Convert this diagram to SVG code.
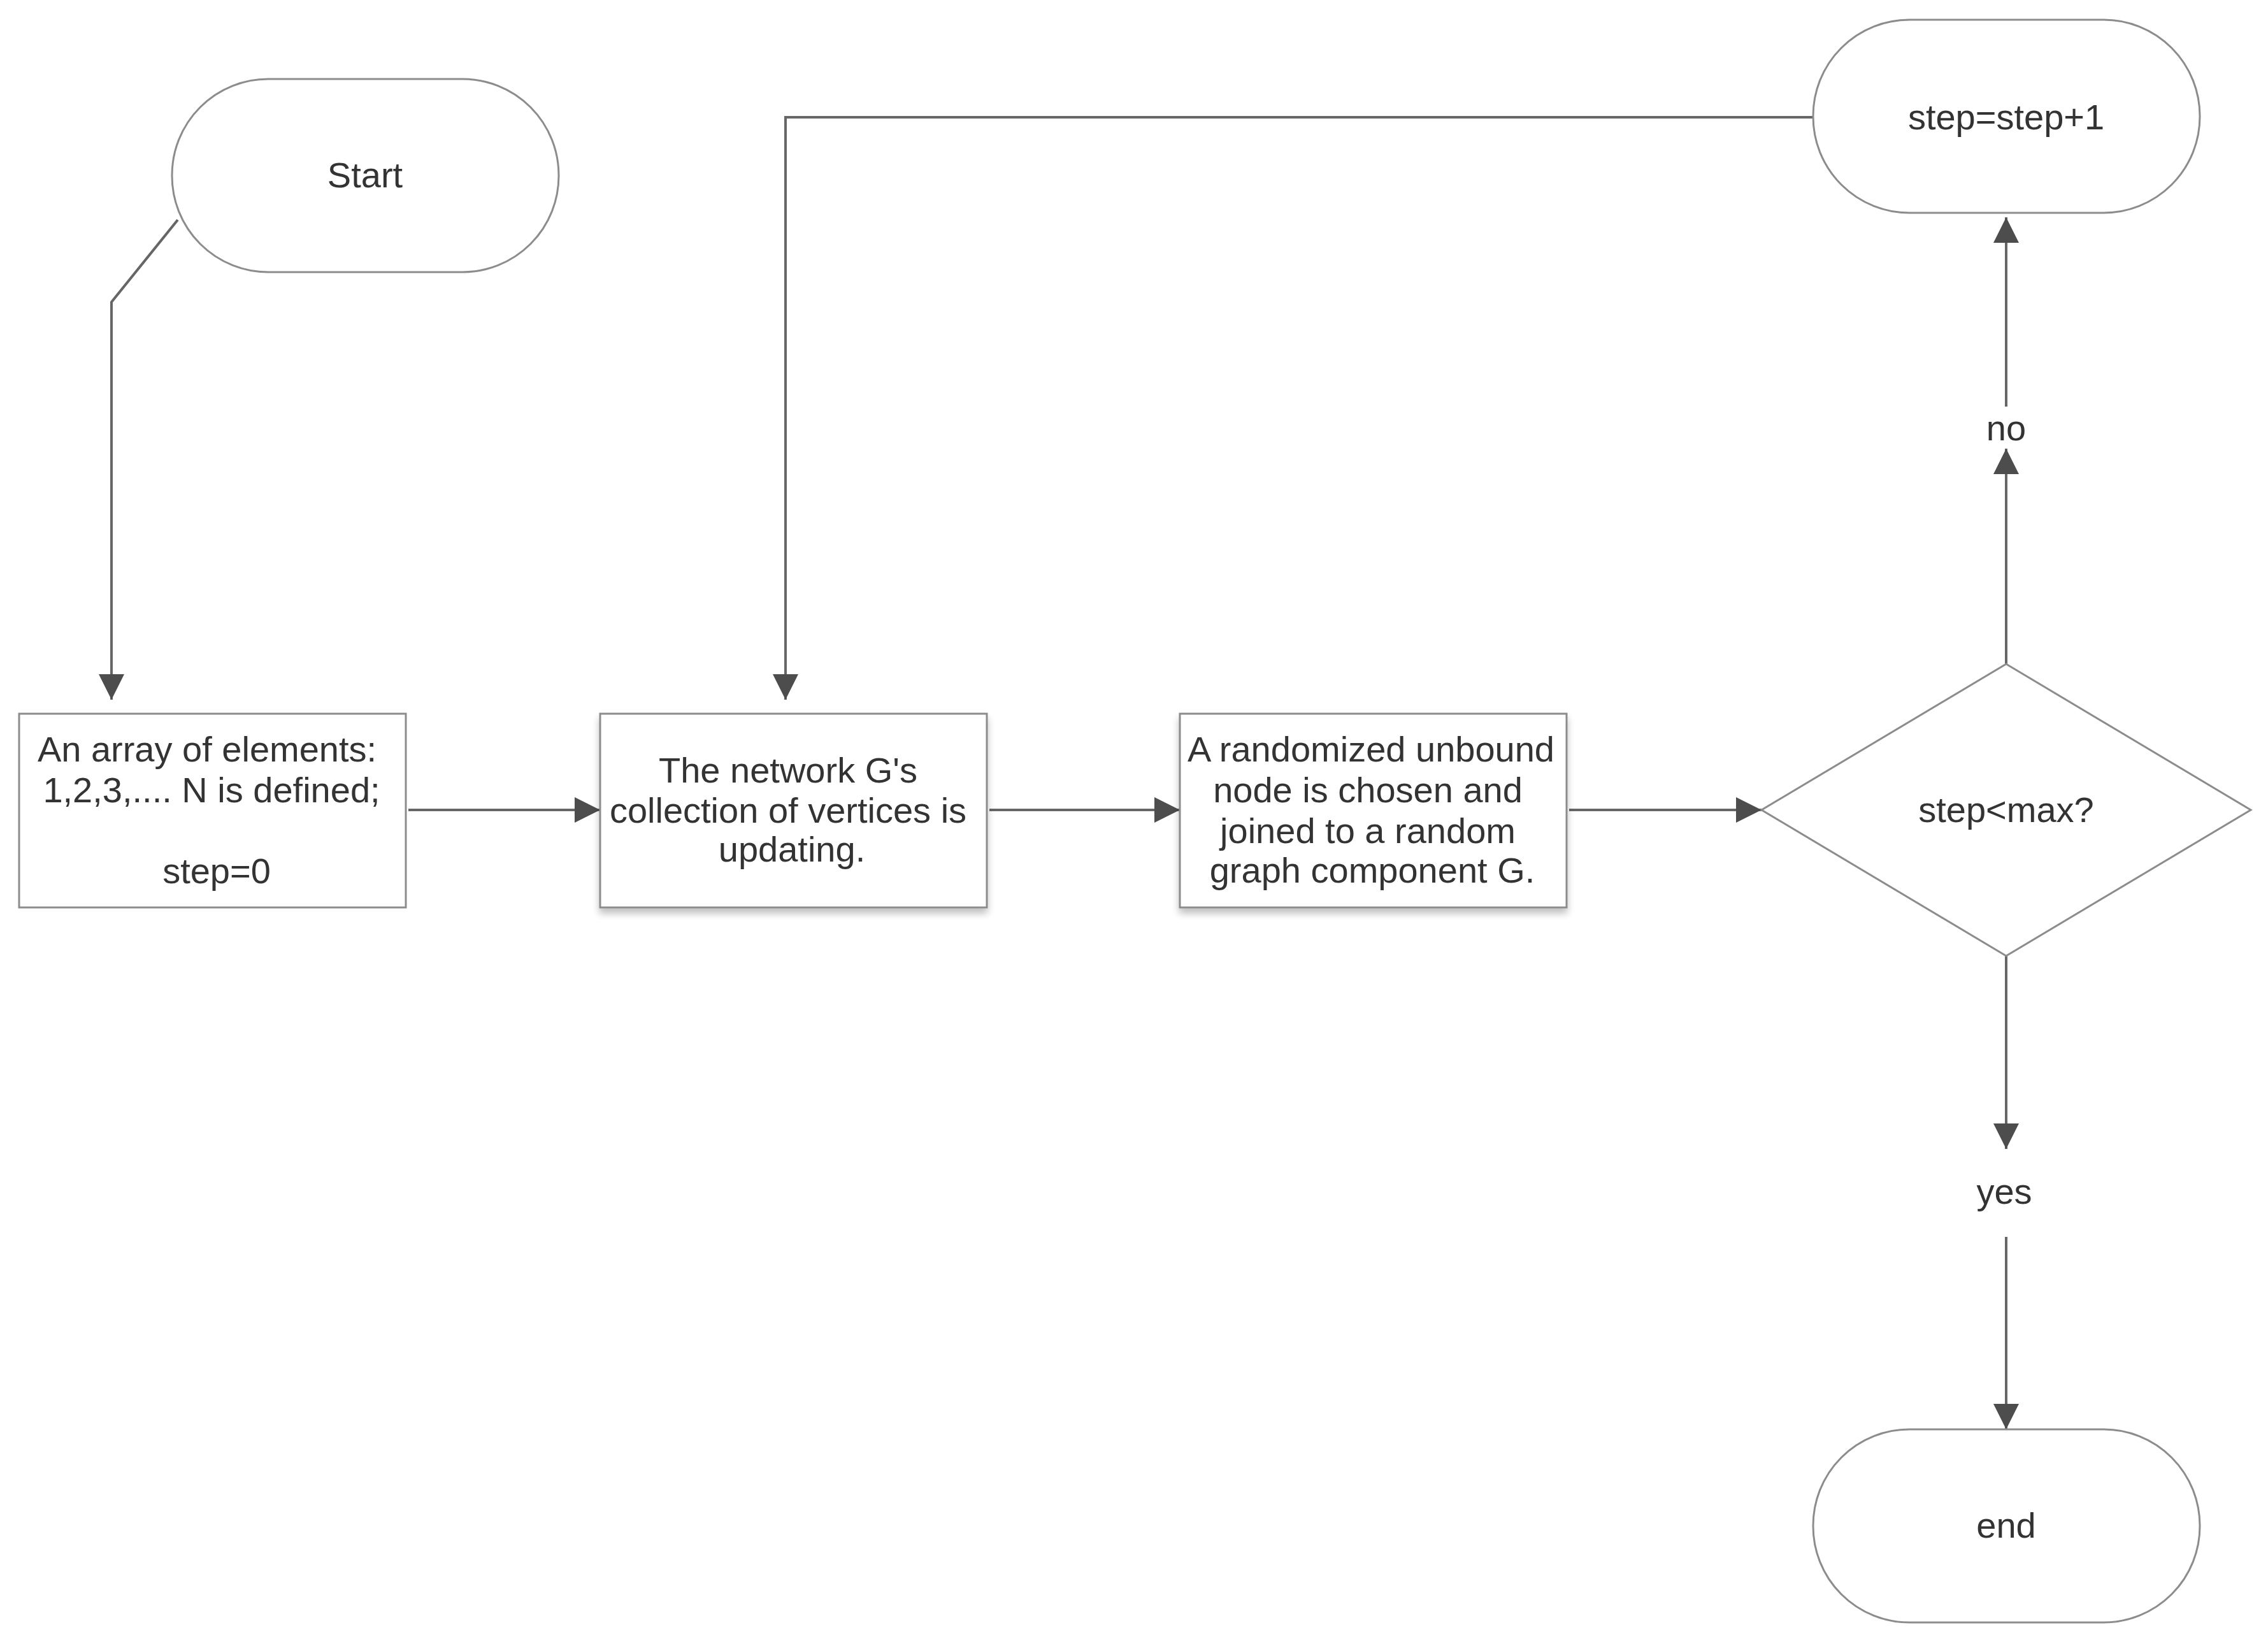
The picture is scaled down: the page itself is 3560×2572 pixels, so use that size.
<svg xmlns="http://www.w3.org/2000/svg" width="3560" height="2572" viewBox="0 0 3560 2572">
<style>
  .shape { fill: #ffffff; stroke: #8c8c8c; stroke-width: 3; }
  .conn { fill: none; stroke: #666666; stroke-width: 4; }
  .lbl { font-family: "Liberation Sans", Arial, sans-serif; font-size: 56px; fill: #333333; text-anchor: middle; }
</style>
<defs>
  <marker id="arrow" markerUnits="userSpaceOnUse" markerWidth="40" markerHeight="40" viewBox="0 0 38 38" refX="38" refY="19" orient="auto">
    <path d="M0,0 L38,19 L0,38 Z" fill="#4d4d4d"/>
  </marker>
  <filter id="shadow" x="-10%" y="-10%" width="120%" height="130%">
    <feGaussianBlur in="SourceAlpha" stdDeviation="6"/>
    <feOffset dx="0" dy="8" result="b"/>
    <feComponentTransfer><feFuncA type="linear" slope="0.25"/></feComponentTransfer>
    <feMerge><feMergeNode/><feMergeNode in="SourceGraphic"/></feMerge>
  </filter>
</defs>
<rect width="3560" height="2572" fill="#ffffff"/>

<g id="connectors">
  <polyline class="conn" points="279,345 175,474 175,1098" marker-end="url(#arrow)"/>
  <line class="conn" x1="641" y1="1271" x2="942" y2="1271" marker-end="url(#arrow)"/>
  <line class="conn" x1="1553" y1="1271" x2="1852" y2="1271" marker-end="url(#arrow)"/>
  <line class="conn" x1="2463" y1="1271" x2="2765" y2="1271" marker-end="url(#arrow)"/>
  <line class="conn" x1="3149" y1="1042" x2="3149" y2="704" marker-end="url(#arrow)"/>
  <line class="conn" x1="3149" y1="638" x2="3149" y2="341" marker-end="url(#arrow)"/>
  <polyline class="conn" points="2846,184 1233,184 1233,1098" marker-end="url(#arrow)"/>
  <line class="conn" x1="3149" y1="1500" x2="3149" y2="1803" marker-end="url(#arrow)"/>
  <line class="conn" x1="3149" y1="1941" x2="3149" y2="2243" marker-end="url(#arrow)"/>
  <text class="lbl" x="3149" y="691">no</text>
  <text class="lbl" x="3146" y="1889">yes</text>
</g>

<g id="start">
  <rect class="shape" x="270" y="124" width="607" height="303" rx="151" ry="151"/>
  <text class="lbl" x="573" y="294">Start</text>
</g>

<g id="init">
  <rect class="shape" x="30" y="1120" width="607" height="304"/>
  <text class="lbl" x="325" y="1195">An array of elements:</text>
  <text class="lbl" x="332" y="1259">1,2,3,.... N is defined;</text>
  <text class="lbl" x="340" y="1386">step=0</text>
</g>

<g id="update">
  <rect class="shape" x="942" y="1120" width="607" height="304" filter="url(#shadow)"/>
  <text class="lbl" x="1237" y="1228">The network G's</text>
  <text class="lbl" x="1237" y="1291">collection of vertices is</text>
  <text class="lbl" x="1243" y="1352">updating.</text>
</g>

<g id="join">
  <rect class="shape" x="1852" y="1120" width="607" height="304" filter="url(#shadow)"/>
  <text class="lbl" x="2152" y="1195">A randomized unbound</text>
  <text class="lbl" x="2147" y="1259">node is chosen and</text>
  <text class="lbl" x="2147" y="1323">joined to a random</text>
  <text class="lbl" x="2154" y="1385">graph component G.</text>
</g>

<g id="decision">
  <polygon class="shape" points="3149,1042 3533,1271 3149,1500 2765,1271"/>
  <text class="lbl" x="3149" y="1290">step&lt;max?</text>
</g>

<g id="increment">
  <rect class="shape" x="2846" y="31" width="607" height="303" rx="151" ry="151"/>
  <text class="lbl" x="3149" y="203">step=step+1</text>
</g>

<g id="end">
  <rect class="shape" x="2846" y="2243" width="607" height="303" rx="151" ry="151"/>
  <text class="lbl" x="3149" y="2413">end</text>
</g>
</svg>
